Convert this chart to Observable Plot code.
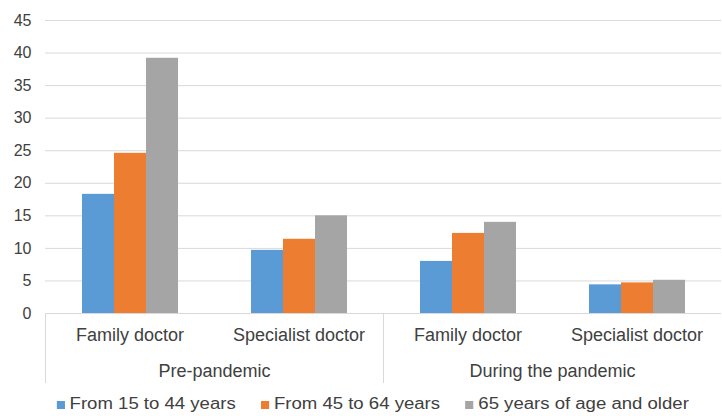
<!DOCTYPE html>
<html>
<head>
<meta charset="utf-8">
<script src="https://cdn.jsdelivr.net/npm/d3@7"></script>
<script src="https://cdn.jsdelivr.net/npm/@observablehq/plot@0.6"></script>
<style>
  html, body { margin: 0; padding: 0; background: #ffffff; }
  body { width: 722px; height: 416px; overflow: hidden; font-family: "Liberation Sans", Arial, sans-serif; }
  #legend { display: flex; align-items: center; gap: 22px; padding-left: 49px; margin-top: 4px;
            font-size: 16px; line-height: 20px; color: #404040; font-family: "Liberation Sans", Arial, sans-serif;
            transform: scaleX(1.16); transform-origin: 0 0; width: 600px; }
  #legend .item { display: flex; align-items: baseline; gap: 4px; white-space: nowrap; }
  #legend .sw { width: 7px; height: 8px; display: inline-block; }
</style>
</head>
<body>
<div id="chart"></div>
<div id="legend"></div>
<script>
// ---- data ----
const periods = ["Pre-pandemic", "During the pandemic"];
const doctors = ["Family doctor", "Specialist doctor"];
const ageGroups = ["From 15 to 44 years", "From 45 to 64 years", "65 years of age and older"];
const colors = ["#5b9bd5", "#ed7d31", "#a5a5a5"];
const preFamily = [18.3, 24.6, 39.2];
const preSpecialist = [9.7, 11.4, 15.0];
const duringFamily = [8.0, 12.3, 14.0];
const duringSpecialist = [4.4, 4.7, 5.1];
const yTicks = [0, 5, 10, 15, 20, 25, 30, 35, 40, 45];

// ---- table ----
const seriesByGroup = [[preFamily, preSpecialist], [duringFamily, duringSpecialist]];
const rows = [];
const keys = [];
periods.forEach((p, pi) => doctors.forEach((d, di) => {
  const key = p + "|" + d;
  keys.push(key);
  ageGroups.forEach((a, ai) => rows.push({key, period: p, doctor: d, age: a, value: seriesByGroup[pi][di][ai]}));
}));
const periodLabels = periods.map(p => ({key: p + "|" + doctors[0], label: p}));

const gridColor = "#d9d9d9";

const chart = Plot.plot({
  width: 722,
  height: 390,
  marginLeft: 44,
  marginRight: 0,
  marginTop: 20,
  marginBottom: 77,
  style: {fontFamily: "'Liberation Sans', Arial, sans-serif", fontSize: "16px", color: "#404040", background: "#ffffff", overflow: "visible"},
  fx: {domain: keys, padding: 0, label: null, axis: null},
  x: {domain: ageGroups, paddingInner: 0, paddingOuter: 1.09, axis: null},
  y: {domain: [0, 45], label: null, axis: null},
  color: {domain: ageGroups, range: colors},
  marks: [
    Plot.gridY(yTicks, {stroke: gridColor, strokeOpacity: 1, strokeWidth: 1}),
    Plot.axisY(yTicks, {tickSize: 0, tickPadding: 14, fontSize: 16, label: null}),
    Plot.barY(rows, {fx: "key", x: "age", y: "value", fill: "age"}),
    Plot.ruleY([0], {stroke: gridColor, strokeWidth: 1}),
    Plot.axisFx({anchor: "bottom", tickSize: 0, tickPadding: 15, fontSize: 18, tickFormat: d => d.split("|")[1], label: null}),
    Plot.text(periodLabels, {fx: "key", text: "label", frameAnchor: "bottom-right", textAnchor: "middle", dy: 63, fontSize: 18, fill: "#404040"}),
    ...periodLabels.map(pl => Plot.frame({fx: () => pl.key, anchor: "left", stroke: gridColor, strokeOpacity: 1, insetTop: 293, insetBottom: -69}))
  ]
});
document.getElementById("chart").appendChild(chart);

// ---- legend ----
const legend = d3.select("#legend");
ageGroups.forEach((a, i) => {
  const it = legend.append("div").attr("class", "item");
  it.append("span").attr("class", "sw").style("background", colors[i]);
  it.append("span").text(a);
});
</script>
</body>
</html>
